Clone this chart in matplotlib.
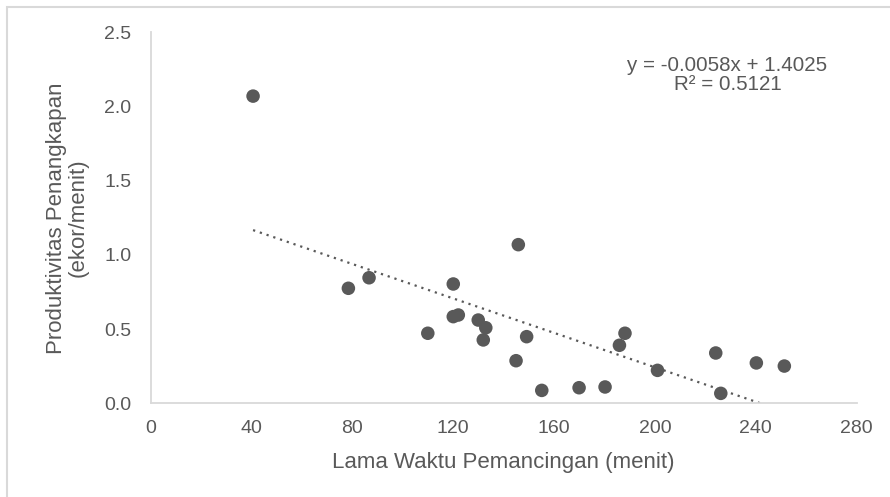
import matplotlib

matplotlib.use("Agg")
import matplotlib.pyplot as plt
from matplotlib.patches import Rectangle
import numpy as np

plt.rcParams["font.family"] = ["Liberation Sans", "DejaVu Sans"]

# fishing duration (minutes) vs catch productivity (fish/minute)
lama_waktu = [40.6, 78.4, 86.6, 109.9, 120.0, 120.0, 122.0, 129.9, 132.9, 131.9,
              145.8, 144.9, 149.1, 155.1, 169.9, 180.2, 185.9, 188.1, 201.0,
              224.1, 226.1, 240.2, 251.3]
produktivitas = [2.07, 0.775, 0.846, 0.472, 0.804, 0.584, 0.595, 0.561, 0.509, 0.427,
                 1.069, 0.287, 0.449, 0.087, 0.105, 0.11, 0.391, 0.472, 0.222,
                 0.339, 0.067, 0.272, 0.251]

# linear trendline coefficients
slope = -0.0058
intercept = 1.4025
r2 = 0.5121

x_ticks = [0, 40, 80, 120, 160, 200, 240, 280]
y_ticks = [0.0, 0.5, 1.0, 1.5, 2.0, 2.5]

TXT = "#595959"
AXIS = "#d9d9d9"
W, H = 890, 497

fig = plt.figure(figsize=(W / 100, H / 100), dpi=100)
x0, x1, y0, y1 = 150.7, 856.7, 403.3, 32.3
ax = fig.add_axes([x0 / W, 1 - y0 / H, (x1 - x0) / W, (y0 - y1) / H])

# chart area frame
fig.patches.append(Rectangle((7 / W, -0.1), 1.2, 1 - 7 / H + 0.1,
                             transform=fig.transFigure, fill=False,
                             edgecolor=AXIS, linewidth=1.5, clip_on=False))

ax.scatter(lama_waktu, produktivitas, s=95, color="#595959", zorder=3,
           edgecolors="none")

xs = np.linspace(min(lama_waktu), max(lama_waktu), 200)
ax.plot(xs, slope * xs + intercept, color="#595959", linewidth=1.6,
        linestyle=(0, (1, 2.2)), zorder=2)

ax.set_xlim(0, 280)
ax.set_ylim(0, 2.5)
ax.set_xticks(x_ticks)
ax.set_yticks(y_ticks)
ax.set_xticklabels([str(t) for t in x_ticks])
ax.set_yticklabels([f"{t:.1f}" for t in y_ticks])
ax.tick_params(length=0, labelsize=14, colors=TXT)
ax.tick_params(axis="x", pad=12)
ax.tick_params(axis="y", pad=14)

for side in ("top", "right"):
    ax.spines[side].set_visible(False)
for side in ("left", "bottom"):
    ax.spines[side].set_color(AXIS)
    ax.spines[side].set_linewidth(1.3)

# axis titles
ax.text(0.5, -(468 - y0) / (y0 - y1), "Lama Waktu Pemancingan (menit)",
        transform=ax.transAxes, ha="center", va="baseline", fontsize=16, color=TXT)
ax.text((67 - x0) / (x1 - x0), 0.5, "Produktivitas Penangkapan\n(ekor/menit)",
        transform=ax.transAxes, ha="center", va="center", rotation=90,
        fontsize=16, color=TXT, linespacing=1.02)

ax.text((727.5 - x0) / (x1 - x0), (y0 - 75) / (y0 - y1),
        f"y = {slope}x + {intercept}\nR² = {r2}",
        transform=ax.transAxes, ha="center", va="center", fontsize=14.8,
        color=TXT, linespacing=1.04)

fig.savefig("out.png", dpi=100)
